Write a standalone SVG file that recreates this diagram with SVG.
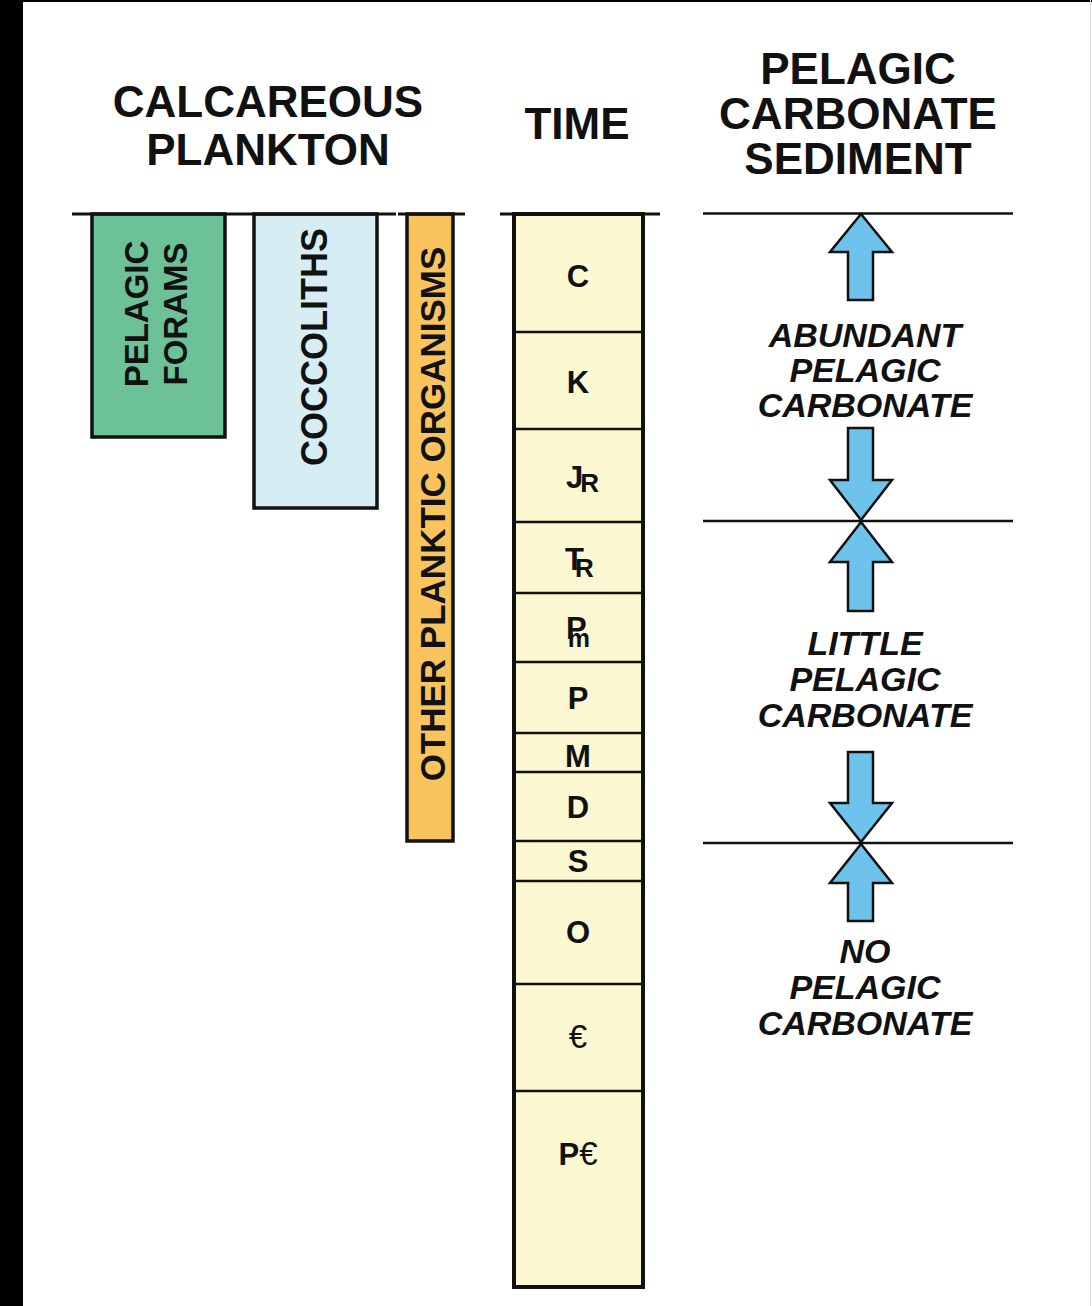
<svg xmlns="http://www.w3.org/2000/svg" width="1092" height="1306" viewBox="0 0 1092 1306">
<style>
.hdr{font-family:"Liberation Sans",Arial,sans-serif;font-weight:bold;font-size:44px;fill:#111;text-anchor:middle}
.lab{font-family:"Liberation Sans",Arial,sans-serif;font-weight:bold;font-style:italic;font-size:34px;fill:#111;text-anchor:middle}
.rot{font-family:"Liberation Sans",Arial,sans-serif;font-weight:bold;fill:#111;text-anchor:middle}
.per{font-family:"Liberation Sans",Arial,sans-serif;font-weight:bold;font-size:31px;fill:#111;text-anchor:middle}
.pers{font-family:"Liberation Sans",Arial,sans-serif;font-weight:bold;fill:#111}
.cam{font-family:"Liberation Sans",Arial,sans-serif;font-weight:normal;font-size:33px;fill:#111}
.bar{stroke:#111;stroke-width:3.5}
.rule{stroke:#111;stroke-width:3;fill:none}
.div{stroke:#111;stroke-width:2.5}
.arrow{fill:#6ec3ec;stroke:#111;stroke-width:2.5;stroke-linejoin:miter}
</style>
<rect x="0" y="0" width="1092" height="1306" fill="#ffffff"/>
<rect x="0" y="0" width="23" height="1306" fill="#000"/>
<rect x="0" y="0" width="1092" height="2" fill="#000"/>
<line x1="1090.5" y1="0" x2="1090.5" y2="1306" stroke="#dddddd" stroke-width="1"/>

<g id="header-calcareous">
<text class="hdr" x="268" y="117">CALCAREOUS</text>
<text class="hdr" x="268" y="165">PLANKTON</text>
</g>
<g id="header-time">
<text class="hdr" x="577" y="139">TIME</text>
</g>
<g id="header-sediment">
<text class="hdr" x="858" y="84">PELAGIC</text>
<text class="hdr" x="858" y="129">CARBONATE</text>
<text class="hdr" x="858" y="174">SEDIMENT</text>
</g>

<g id="plankton-bars">
<g id="pelagic-forams">
<rect class="bar" x="92" y="214" width="133" height="223" fill="#6cc196"/>
<text class="rot" font-size="33" transform="translate(148,314) rotate(-90)">PELAGIC</text>
<text class="rot" font-size="33" transform="translate(187,314) rotate(-90)">FORAMS</text>
</g>
<g id="coccoliths">
<rect class="bar" x="254" y="214" width="123" height="294" fill="#d5edf3"/>
<text class="rot" font-size="36" transform="translate(327,347) rotate(-90)">COCCOLITHS</text>
</g>
<g id="other-planktic">
<rect class="bar" x="407" y="214" width="46" height="627" fill="#f9c45e"/>
<text class="rot" font-size="35" transform="translate(445,514) rotate(-90)">OTHER PLANKTIC ORGANISMS</text>
</g>
<line class="rule" x1="72" y1="214" x2="396" y2="214"/>
<line class="rule" x1="398" y1="214" x2="465" y2="214"/>
</g>

<g id="time-column">
<rect x="514" y="214" width="129" height="1073" fill="#fcf8d2" stroke="#111" stroke-width="4"/>
<line class="rule" x1="500" y1="214" x2="660" y2="214"/>
<line class="div" x1="514" y1="332" x2="643" y2="332"/>
<line class="div" x1="514" y1="429" x2="643" y2="429"/>
<line class="div" x1="514" y1="522" x2="643" y2="522"/>
<line class="div" x1="514" y1="593" x2="643" y2="593"/>
<line class="div" x1="514" y1="662" x2="643" y2="662"/>
<line class="div" x1="514" y1="733" x2="643" y2="733"/>
<line class="div" x1="514" y1="772" x2="643" y2="772"/>
<line class="div" x1="514" y1="841" x2="643" y2="841"/>
<line class="div" x1="514" y1="881" x2="643" y2="881"/>
<line class="div" x1="514" y1="984" x2="643" y2="984"/>
<line class="div" x1="514" y1="1091" x2="643" y2="1091"/>
<text class="per" x="578" y="287">C</text>
<text class="per" x="578" y="393">K</text>
<text class="pers" x="566" y="488"><tspan font-size="31">J</tspan><tspan font-size="26" dx="-3" dy="4">R</tspan></text>
<text class="pers" x="565" y="570"><tspan font-size="31">T</tspan><tspan font-size="26" dx="-9" dy="7">R</tspan></text>
<text class="pers" x="566" y="639"><tspan font-size="31">P</tspan><tspan font-size="25" dx="-19" dy="8">m</tspan></text>
<text class="per" x="578" y="709">P</text>
<text class="per" x="578" y="767">M</text>
<text class="per" x="578" y="818">D</text>
<text class="per" x="578" y="872">S</text>
<text class="per" x="578" y="943">O</text>
<text class="cam" x="578" y="1048" text-anchor="middle">€</text>
<text x="578" y="1165" text-anchor="middle"><tspan class="pers" font-size="31">P</tspan><tspan class="cam">€</tspan></text>
</g>

<g id="boundaries">
<line class="div" x1="703" y1="213.5" x2="1013" y2="213.5"/>
<line class="div" x1="703" y1="521" x2="1013" y2="521"/>
<line class="div" x1="703" y1="843" x2="1013" y2="843"/>
</g>

<g id="connectors">
<polygon class="arrow" points="861,214 892,252 873,252 873,300 848,300 848,252 830,252"/>
<polygon class="arrow" points="861,520 892,480 873,480 873,428 848,428 848,480 830,480"/>
<polygon class="arrow" points="861,522 892,562 873,562 873,611 848,611 848,562 830,562"/>
<polygon class="arrow" points="861,842 892,803 873,803 873,752 848,752 848,803 830,803"/>
<polygon class="arrow" points="861,844 892,883 873,883 873,921 848,921 848,883 830,883"/>
</g>

<g id="label-abundant">
<text class="lab" x="865" y="347">ABUNDANT</text>
<text class="lab" x="865" y="382">PELAGIC</text>
<text class="lab" x="865" y="417">CARBONATE</text>
</g>
<g id="label-little">
<text class="lab" x="865" y="655">LITTLE</text>
<text class="lab" x="865" y="691">PELAGIC</text>
<text class="lab" x="865" y="727">CARBONATE</text>
</g>
<g id="label-no">
<text class="lab" x="865" y="963">NO</text>
<text class="lab" x="865" y="999">PELAGIC</text>
<text class="lab" x="865" y="1035">CARBONATE</text>
</g>
</svg>
